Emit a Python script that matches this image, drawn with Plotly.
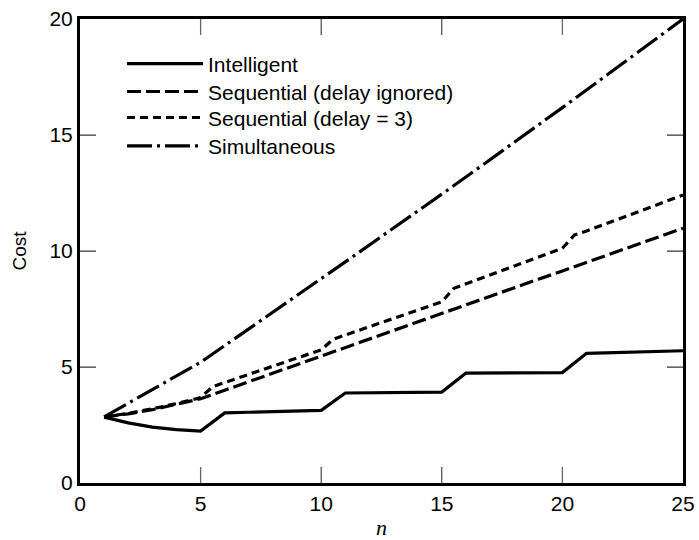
import plotly.graph_objects as go

# ---------------- data ----------------
n_int = list(range(1, 26))

intelligent = [2.84, 2.59, 2.41, 2.30, 2.24, 3.02, 3.05, 3.08, 3.10, 3.13,
               3.88, 3.89, 3.90, 3.91, 3.92, 4.74, 4.75, 4.75, 4.76, 4.76,
               5.59, 5.62, 5.65, 5.68, 5.70]

seq_ignored = [2.85, 2.98, 3.16, 3.38, 3.63, 4.00, 4.37, 4.73, 5.10, 5.47,
               5.84, 6.20, 6.57, 6.94, 7.31, 7.67, 8.04, 8.41, 8.78, 9.14,
               9.51, 9.88, 10.25, 10.61, 10.98]

n_delay = [1, 2, 3, 4, 5, 5.5, 6, 7, 8, 9, 10, 10.5, 11, 12, 13, 14, 15, 15.5,
           16, 17, 18, 19, 20, 20.5, 21, 22, 23, 24, 25]
seq_delay3 = [2.85, 3.00, 3.20, 3.42, 3.68, 4.15, 4.33, 4.69, 5.04, 5.39, 5.74,
              6.20, 6.38, 6.74, 7.09, 7.45, 7.81, 8.39, 8.58, 8.96, 9.35, 9.73,
              10.12, 10.69, 10.86, 11.25, 11.63, 12.02, 12.41]

simultaneous = [2.85, 3.45, 4.05, 4.62, 5.20, 5.93, 6.65, 7.37, 8.09, 8.81,
                9.53, 10.25, 10.98, 11.71, 12.45, 13.19, 13.93, 14.68, 15.43, 16.18,
                16.94, 17.70, 18.46, 19.23, 20.00]

x_ticks = [0, 5, 10, 15, 20, 25]
y_ticks = [0, 5, 10, 15, 20]

# ---------------- figure ----------------
fig = go.Figure()
lw = 3.2
fig.add_trace(go.Scatter(x=n_int, y=intelligent, mode="lines", name="Intelligent",
                         legend="legend",
                         line=dict(color="black", width=lw, dash="solid")))
fig.add_trace(go.Scatter(x=n_int, y=seq_ignored, mode="lines", name="Sequential (delay ignored)",
                         legend="legend2",
                         line=dict(color="black", width=lw, dash="14px,5px")))
fig.add_trace(go.Scatter(x=n_delay, y=seq_delay3, mode="lines", name="Sequential (delay = 3)",
                         legend="legend3",
                         line=dict(color="black", width=lw, dash="8px,5px")))
fig.add_trace(go.Scatter(x=n_int, y=simultaneous, mode="lines", name="Simultaneous",
                         legend="legend4",
                         line=dict(color="black", width=lw, dash="25px,5px,3px,5px")))

TICK_COLOR = "#666666"
TICK_LEN = 16
TICK_W = 1.3

axis_common = dict(
    showgrid=False, zeroline=False,
    showline=True, linecolor="black", linewidth=3, mirror="ticks",
    ticks="inside", ticklen=TICK_LEN, tickwidth=TICK_W, tickcolor=TICK_COLOR,
    tickfont=dict(family="Liberation Sans, Arial, sans-serif", size=21, color="black"),
)

fig.update_xaxes(range=[0, 25], tickvals=x_ticks,
                 title=dict(text="<i>n</i>", standoff=6,
                            font=dict(family="Liberation Serif, Times New Roman, serif",
                                      size=22, color="black")),
                 **axis_common)
fig.update_yaxes(range=[0, 20], tickvals=y_ticks, ticksuffix="\u2009\u2009",
                 title=dict(text="Cost", standoff=18,
                            font=dict(family="Liberation Sans, Arial, sans-serif",
                                      size=19, color="black")),
                 **axis_common)

# inside tick marks (bottom/top and left/right), derived from the tick value lists
tick_line = dict(color=TICK_COLOR, width=TICK_W)
for v in x_ticks[1:-1]:
    fig.add_shape(type="line", xref="x", yref="paper", x0=v, x1=v,
                  ysizemode="pixel", yanchor=0, y0=0, y1=TICK_LEN, line=tick_line, layer="above")
    fig.add_shape(type="line", xref="x", yref="paper", x0=v, x1=v,
                  ysizemode="pixel", yanchor=1, y0=0, y1=-TICK_LEN, line=tick_line, layer="above")
for v in y_ticks[1:-1]:
    fig.add_shape(type="line", xref="paper", yref="y", y0=v, y1=v,
                  xsizemode="pixel", xanchor=0, x0=0, x1=TICK_LEN, line=tick_line, layer="above")
    fig.add_shape(type="line", xref="paper", yref="y", y0=v, y1=v,
                  xsizemode="pixel", xanchor=1, x0=0, x1=-TICK_LEN, line=tick_line, layer="above")

legend_font = dict(family="Liberation Sans, Arial, sans-serif", size=21, color="black")


def leg(y):
    return dict(x=0.0697, y=y, xanchor="left", yanchor="middle",
                bgcolor="rgba(0,0,0,0)", borderwidth=0, font=legend_font,
                itemwidth=76)


fig.update_layout(
    width=699, height=540,
    margin=dict(l=80, r=16, t=19, b=57, autoexpand=False),
    plot_bgcolor="white",
    showlegend=True,
    legend=leg(0.903), legend2=leg(0.843), legend3=leg(0.787), legend4=leg(0.726),
)

fig.write_html("out.html")
